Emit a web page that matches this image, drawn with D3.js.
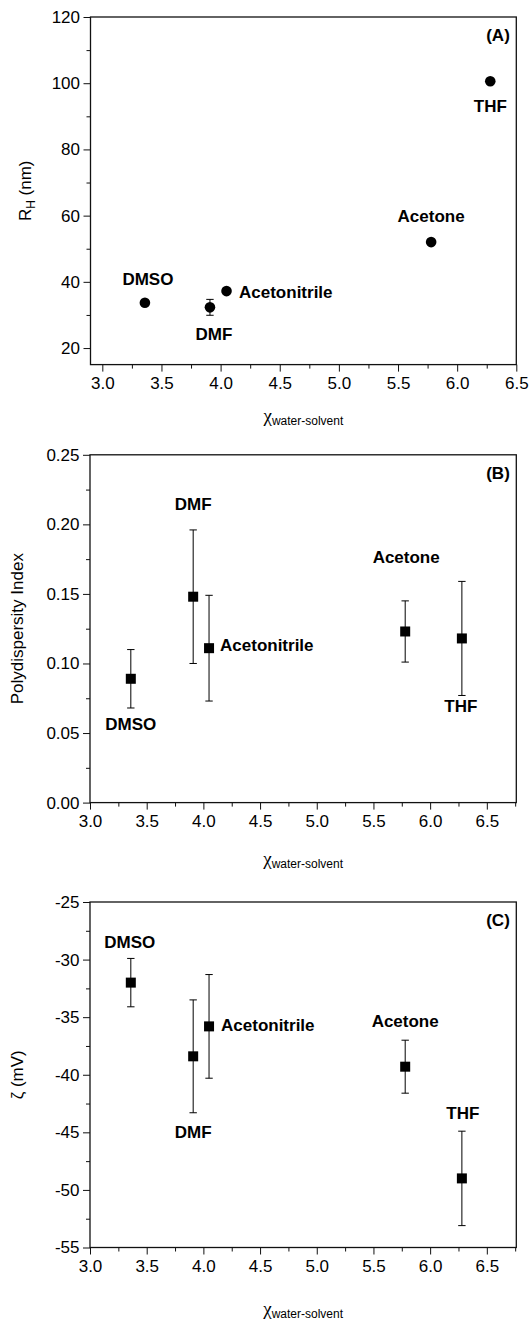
<!DOCTYPE html>
<html><head><meta charset="utf-8">
<script src="https://cdn.jsdelivr.net/npm/d3@7"></script>
<style>
body{margin:0;background:#fff}
text{font-family:"Liberation Sans",Arial,sans-serif;fill:#000}
</style>
</head><body>
<svg id="chart" width="530" height="1324"></svg>
<script>
// ---------- data ----------
const solvents = ["DMSO", "DMF", "Acetonitrile", "Acetone", "THF"];
const chi      = [3.36, 3.91, 4.05, 5.78, 6.28];
const rh       = [33.7, 32.3, 37.2, 52.0, 100.6];
const rhErr    = [0, 2.4, 0, 0, 0];
const pdi      = [0.089, 0.148, 0.111, 0.123, 0.118];
const pdiErr   = [0.021, 0.048, 0.038, 0.022, 0.041];
const zeta     = [-32.0, -38.4, -35.8, -39.3, -49.0];
const zetaErr  = [2.1, 4.9, 4.5, 2.3, 4.1];

const xTicks    = [3.0, 3.5, 4.0, 4.5, 5.0, 5.5, 6.0, 6.5];
const rhTicks   = [20, 40, 60, 80, 100, 120];
const pdiTicks  = [0.00, 0.05, 0.10, 0.15, 0.20, 0.25];
const zetaTicks = [-55, -50, -45, -40, -35, -30, -25];

// ---------- layout ----------
const svg = d3.select("#chart");
svg.append("rect").attr("width", 530).attr("height", 1324).attr("fill", "#fff");

const panels = [
  { tag: "(A)", values: rh, errors: rhErr, marker: "circle",
    xDomain: [2.9, 6.5], yDomain: [15, 120], yTicks: rhTicks, xStep: 0.5, yStep: 20,
    yFmt: d => d3.format("d")(d),
    box: { left: 90.5, right: 516.3, top: 17, bottom: 364.6 },
    yTitleX: 31, xTitleY: 422,
    labels: [[3, -18, "middle"], [4, 33, "middle"], [12.5, 6.5, "start"], [0, -20, "middle"], [0, 31, "middle"]] },
  { tag: "(B)", values: pdi, errors: pdiErr, marker: "square",
    xDomain: [3.0, 6.76], yDomain: [0, 0.25], yTicks: pdiTicks, xStep: 0.5, yStep: 0.05,
    yFmt: d => d3.format(".2f")(d),
    box: { left: 90, right: 516.3, top: 454.8, bottom: 802.6 },
    yTitleX: 23, xTitleY: 865,
    labels: [[0, 51, "middle"], [0, -87, "middle"], [11, 3, "start"], [1, -68, "middle"], [-1, 74, "middle"]] },
  { tag: "(C)", values: zeta, errors: zetaErr, marker: "square",
    xDomain: [3.0, 6.76], yDomain: [-55, -25], yTicks: zetaTicks, xStep: 0.5, yStep: 5,
    yFmt: d => String(d),
    box: { left: 90, right: 516.3, top: 902, bottom: 1247.5 },
    yTitleX: 23, xTitleY: 1315,
    labels: [[-1, -35, "middle"], [0, 82, "middle"], [12, 5, "start"], [0, -40, "middle"], [1, -59, "middle"]] }
];

const FS = 17;

panels.forEach((p, pi) => {
  const b = p.box;
  const x = d3.scaleLinear().domain(p.xDomain).range([b.left, b.right]);
  const y = d3.scaleLinear().domain(p.yDomain).range([b.bottom, b.top]);
  const g = svg.append("g");

  const inDom = (v, dom) => v >= Math.min(...dom) - 1e-9 && v <= Math.max(...dom) + 1e-9;
  const xMinor = xTicks.map(v => v + p.xStep / 2).filter(v => inDom(v, p.xDomain));
  const yMinor = p.yTicks.map(v => v + p.yStep / 2).filter(v => inDom(v, p.yDomain));

  // minor ticks
  g.append("g").attr("transform", `translate(0,${b.bottom})`)
    .call(d3.axisBottom(x).tickValues(xMinor).tickSize(4).tickFormat(""))
    .call(a => a.select(".domain").remove());
  g.append("g").attr("transform", `translate(${b.left},0)`)
    .call(d3.axisLeft(y).tickValues(yMinor).tickSize(4).tickFormat(""))
    .call(a => a.select(".domain").remove());

  // major ticks
  const xa = g.append("g").attr("transform", `translate(0,${b.bottom})`)
    .call(d3.axisBottom(x).tickValues(xTicks).tickSize(7).tickPadding(5).tickFormat(d3.format(".1f")));
  xa.select(".domain").remove();
  const ya = g.append("g").attr("transform", `translate(${b.left},0)`)
    .call(d3.axisLeft(y).tickValues(p.yTicks).tickSize(7).tickPadding(3.5).tickFormat(p.yFmt));
  ya.select(".domain").remove();
  g.selectAll(".tick line").attr("stroke", "#111").attr("stroke-width", 1);
  g.selectAll(".tick text").attr("font-size", FS).attr("font-family", '"Liberation Sans",Arial,sans-serif').attr("fill", "#000");

  // frame
  g.append("rect").attr("x", b.left).attr("y", b.top)
    .attr("width", b.right - b.left).attr("height", b.bottom - b.top)
    .attr("fill", "none").attr("stroke", "#111").attr("stroke-width", 1.3);

  // error bars
  const eb = g.append("g").attr("stroke", "#000").attr("stroke-width", 1).attr("fill", "none");
  p.values.forEach((v, i) => {
    const e = p.errors[i];
    if (!e) return;
    const cx = x(chi[i]);
    eb.append("line").attr("x1", cx).attr("x2", cx).attr("y1", y(v - e)).attr("y2", y(v + e));
    [v - e, v + e].forEach(w => eb.append("line").attr("x1", cx - 3.7).attr("x2", cx + 3.7).attr("y1", y(w)).attr("y2", y(w)));
  });

  // markers
  p.values.forEach((v, i) => {
    if (p.marker === "circle") {
      g.append("circle").attr("cx", x(chi[i])).attr("cy", y(v)).attr("r", 5.3).attr("fill", "#000");
    } else {
      g.append("rect").attr("x", x(chi[i]) - 5).attr("y", y(v) - 5).attr("width", 10).attr("height", 10).attr("fill", "#000");
    }
  });

  // point labels
  p.values.forEach((v, i) => {
    const L = p.labels[i];
    g.append("text").attr("x", x(chi[i]) + L[0]).attr("y", y(v) + L[1])
      .attr("text-anchor", L[2]).attr("font-size", FS).attr("font-weight", "bold").text(solvents[i]);
  });

  // panel tag
  g.append("text").attr("x", 509.8).attr("y", b.top + 24.3).attr("text-anchor", "end")
    .attr("font-size", FS).attr("font-weight", "bold").text(p.tag);

  // x title
  const xt = g.append("text").attr("x", (b.left + b.right) / 2).attr("y", p.xTitleY).attr("text-anchor", "middle");
  xt.append("tspan").attr("font-family", '"Liberation Serif","Times New Roman",serif').attr("font-size", 19).text("χ");
  xt.append("tspan").attr("font-size", 12).attr("dy", 3).text("water-solvent");

  // y title
  const yt = g.append("text")
    .attr("transform", `translate(${p.yTitleX},${(b.top + b.bottom) / 2}) rotate(-90)`)
    .attr("text-anchor", "middle").attr("font-size", FS);
  if (pi === 0) {
    yt.append("tspan").text("R");
    yt.append("tspan").attr("font-size", 12).attr("dy", 4).text("H");
    yt.append("tspan").attr("dy", -4).text(" (nm)");
  } else if (pi === 1) {
    yt.text("Polydispersity Index");
  } else {
    yt.text("ζ (mV)");
  }
});
</script>
</body></html>
